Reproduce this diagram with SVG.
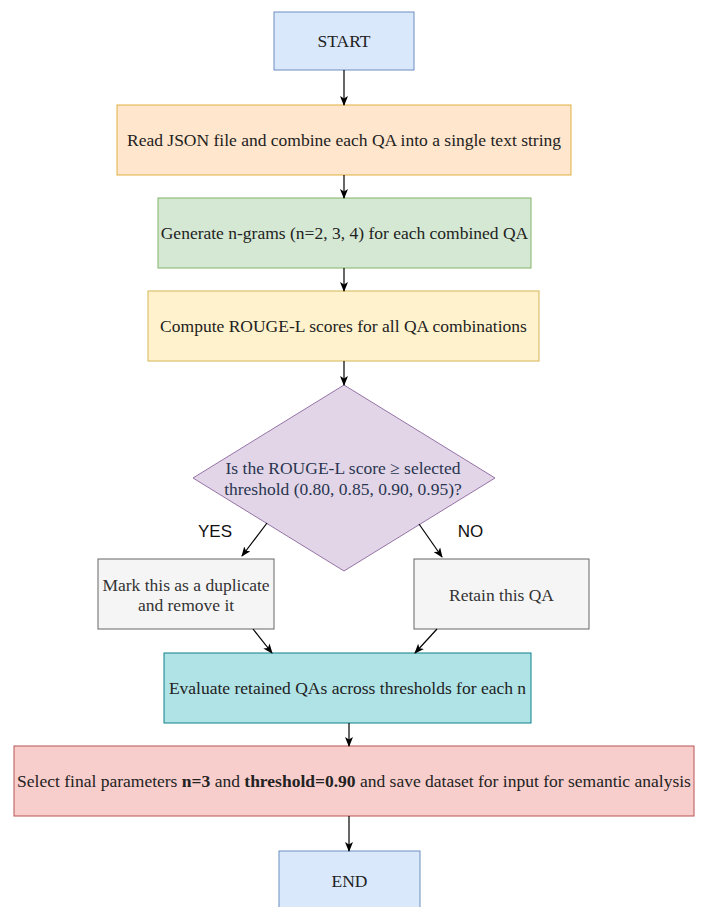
<svg xmlns="http://www.w3.org/2000/svg" width="704" height="907" viewBox="0 0 704 907">
<defs>
<marker id="arr" markerWidth="10" markerHeight="8" refX="9" refY="4" orient="auto" markerUnits="userSpaceOnUse">
<path d="M0,0 L10,4 L0,8 L2.5,4 z" fill="#000"/>
</marker>
<style>
.t{font-family:"Liberation Serif","Times New Roman",serif;font-size:17.5px;fill:#222;text-anchor:middle}
.lbl{font-family:"Liberation Sans",Arial,sans-serif;font-size:17px;fill:#111;text-anchor:middle}
.c{stroke:#000;stroke-width:1.2;fill:none;marker-end:url(#arr)}
.blue{fill:#dae8fc;stroke:#6c8ebf}
.orange{fill:#ffe6cc;stroke:#e0b040}
.green{fill:#d5e8d4;stroke:#82b366}
.yellow{fill:#fff2cc;stroke:#d6b656}
.purple{fill:#e1d5e7;stroke:#9673a6}
.grey{fill:#f5f5f5;stroke:#666}
.teal{fill:#b0e3e6;stroke:#0e8088}
.red{fill:#f8cecc;stroke:#b85450}
</style>
</defs>
<rect width="704" height="907" fill="#fff"/>
<g id="start"><rect class="blue" x="274" y="12" width="140" height="58"/><text class="t" x="344" y="47">START</text></g>
<g id="read"><rect class="orange" x="117" y="105" width="454" height="70"/><text class="t" x="344" y="146">Read JSON file and combine each QA into a single text string</text></g>
<g id="ngrams"><rect class="green" x="158" y="198" width="373" height="70"/><text class="t" x="344.5" y="239">Generate n-grams (n=2, 3, 4) for each combined QA</text></g>
<g id="rouge"><rect class="yellow" x="148" y="291" width="391" height="70"/><text class="t" x="343.5" y="332">Compute ROUGE-L scores for all QA combinations</text></g>
<g id="decision"><polygon class="purple" points="344,385 495,478 344,571 193,478"/><text class="t" x="343" y="474" style="fill:#2a3550">Is the ROUGE-L score ≥ selected</text><text class="t" x="343" y="495" style="fill:#2a3550">threshold (0.80, 0.85, 0.90, 0.95)?</text></g>
<g id="duplicate"><rect class="grey" x="98" y="559" width="176" height="70"/><text class="t" x="186" y="591" style="fill:#333">Mark this as a duplicate</text><text class="t" x="186" y="611" style="fill:#333">and remove it</text></g>
<g id="retain"><rect class="grey" x="414" y="559" width="175" height="70"/><text class="t" x="501.5" y="601" style="fill:#333">Retain this QA</text></g>
<g id="evaluate"><rect class="teal" x="164" y="653" width="367" height="70"/><text class="t" x="347.5" y="694">Evaluate retained QAs across thresholds for each n</text></g>
<g id="select"><rect class="red" x="14" y="746" width="680" height="70"/><text class="t" x="354" y="787">Select final parameters <tspan font-weight="bold">n=3</tspan> and <tspan font-weight="bold">threshold=0.90</tspan> and save dataset for input for semantic analysis</text></g>
<g id="end"><rect class="blue" x="279" y="851" width="141" height="58"/><text class="t" x="349.5" y="886.5">END</text></g>
<g id="connectors">
<line class="c" x1="344" y1="70" x2="344" y2="105"/>
<line class="c" x1="344" y1="175" x2="344" y2="198"/>
<line class="c" x1="344" y1="268" x2="344" y2="291"/>
<line class="c" x1="344" y1="361" x2="344" y2="385"/>
<line class="c" x1="267" y1="523" x2="242" y2="556"/>
<line class="c" x1="419" y1="524" x2="442" y2="557"/>
<line class="c" x1="253" y1="629" x2="272" y2="653"/>
<line class="c" x1="437" y1="629" x2="415" y2="653"/>
<line class="c" x1="349" y1="723" x2="349" y2="746"/>
<line class="c" x1="349" y1="816" x2="349" y2="851"/>
<text class="lbl" x="215" y="537">YES</text>
<text class="lbl" x="470.5" y="537">NO</text>
</g>
</svg>
